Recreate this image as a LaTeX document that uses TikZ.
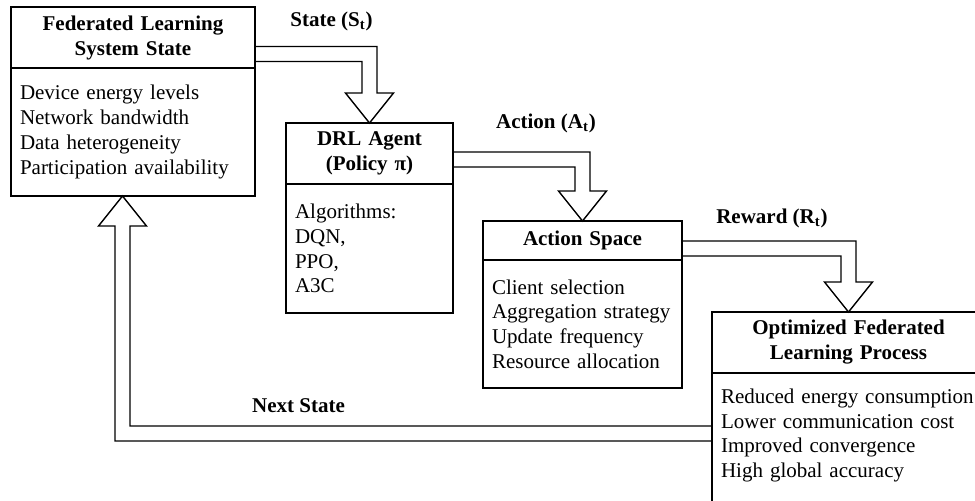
\documentclass[tikz,border=0pt]{standalone}
\usepackage{fontspec}
\setmainfont{Liberation Serif}
\usetikzlibrary{positioning,calc}

\begin{document}
\begin{tikzpicture}[x=0.5pt, y=-0.5pt, line width=0.7pt,
	headstyle/.style={rectangle, draw, align=center, inner xsep=4.5pt, outer sep=0pt,
		font=\fontsize{10.5}{12.5}\selectfont\bfseries, minimum height=#1},
	bodystyle/.style={rectangle, draw, align=left, inner xsep=4.5pt, inner ysep=8pt, outer sep=0pt,
		font=\fontsize{10.5}{12.35}\selectfont, minimum height=#1},
	labelstyle/.style={font=\fontsize{10.5}{12.5}\selectfont\bfseries},
	arrowstyle/.style={line width=0.7pt, line join=miter}]
	\def \w {7.5}
	\def \hw {24}
	\def \hl {30}
	\useasboundingbox (0,0) rectangle (975,500);
	\clip (0,0) rectangle (975,500);

	\node(flsh) [headstyle=30.5pt, text width=113pt, anchor=north west] at (11,7) {Federated Learning\\System State};
	\node(flsb) [bodystyle=64pt, text width=113pt, below=0pt of flsh] {Device energy levels\\Network bandwidth\\Data heterogeneity\\Participation availability};

	\node(drlh) [headstyle=30.5pt, text width=74.5pt, anchor=north west] at (286,123) {DRL Agent\\(Policy π)};
	\node(drlb) [bodystyle=64.5pt, text width=74.5pt, below=0pt of drlh] {Algorithms:\\DQN,\\PPO,\\A3C};

	\node(acth) [headstyle=19.5pt, text width=90.5pt, anchor=north west] at (483,221) {Action Space};
	\node(actb) [bodystyle=64pt, text width=90.5pt, below=0pt of acth] {Client selection\\Aggregation strategy\\Update frequency\\Resource allocation};

	\node(oflh) [headstyle=30.5pt, text width=127.5pt, anchor=north west] at (712,312) {Optimized Federated\\Learning Process};
	\node(oflb) [bodystyle=0pt, text width=127.5pt, text depth=80pt, below=0pt of oflh] {Reduced energy consumption\\Lower communication cost\\Improved convergence\\High global accuracy};

	\foreach \src/\dst/\ya [evaluate=\ya as \yt using \ya-\w, evaluate=\ya as \yb using \ya+\w] in {flsh/drlh/54, drlh/acth/159.5, acth/oflh/248.5} {
		\draw[arrowstyle] (\src.east |- 0,\yt) -| ($(\dst.north)+(\w,-\hl)$)
		-- ++({\hw-\w},0) -- (\dst.north) -- ++(-\hw,-\hl) -- ++({\hw-\w},0)
		|- (\src.east |- 0,\yb);
	};

	\coordinate (back) at ($(flsb.south)+(-10.5,0)$);
	\draw[arrowstyle] (oflb.west |- 0,426) -| ($(back)+(\w,\hl)$)
		-- ++({\hw-\w},0) -- (back) -- ++(-\hw,\hl) -- ++({\hw-\w},0)
		|- (oflb.west |- 0,441);

	\node(stlab) [labelstyle] at (331.5,21) {State (S\textsubscript{t})};
	\node(aclab) [labelstyle] at (546,123) {Action (A\textsubscript{t})};
	\node(rwlab) [labelstyle] at (772,218) {Reward (R\textsubscript{t})};
	\node(nslab) [labelstyle] at (298.5,406) {Next State};
\end{tikzpicture}
\end{document}
